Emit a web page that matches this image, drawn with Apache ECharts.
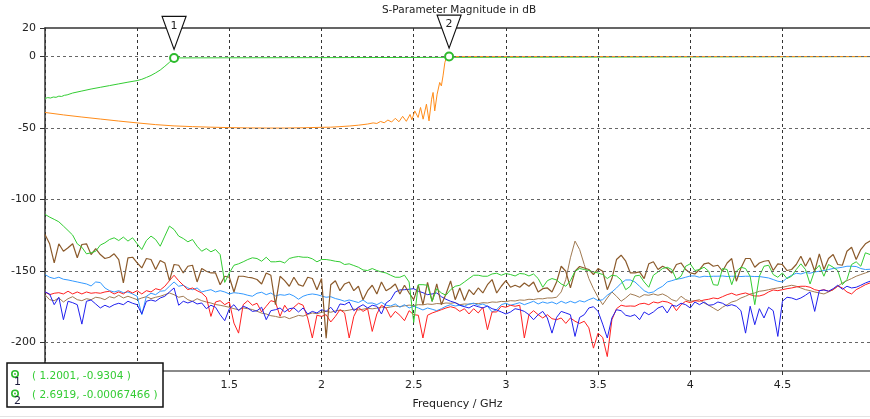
<!DOCTYPE html>
<html>
<head>
<meta charset="utf-8">
<script src="https://cdn.jsdelivr.net/npm/echarts@6/dist/echarts.min.js"></script>
<style>
html, body { margin: 0; padding: 0; background: #fff; }
#main { width: 870px; height: 419px; }
</style>
</head>
<body>
<div id="main"></div>
<script>
// S-parameter traces (dB)
const s11Freq = [0.5, 0.515, 0.53, 0.545, 0.56, 0.575, 0.59, 0.605, 0.62, 0.65, 0.7, 0.75, 0.8, 0.85, 0.9, 0.95, 1.0, 1.025, 1.05, 1.075, 1.1, 1.125, 1.15, 1.175, 1.2001, 1.205, 5.0]
const s11Vals = [-29.3, -28.7, -29.0, -28.3, -28.5, -27.7, -27.9, -27.1, -26.8, -25.5, -24.1, -22.7, -21.5, -20.3, -19.1, -17.9, -16.8, -15.9, -14.6, -13.2, -11.4, -9.4, -6.8, -4.0, -0.93, 0, 0]

const s22Freq = [0.5, 0.6, 0.7, 0.8, 0.9, 1.0, 1.1, 1.2, 1.3, 1.4, 1.5, 1.6, 1.7, 1.8, 1.9, 2.0, 2.05, 2.1, 2.15, 2.2, 2.25, 2.28, 2.3, 2.32, 2.34, 2.36, 2.38, 2.4, 2.42, 2.44, 2.46, 2.48, 2.49, 2.506, 2.524, 2.537, 2.551, 2.569, 2.583, 2.597, 2.605, 2.614, 2.627, 2.641, 2.65, 2.659, 2.669, 2.678, 2.6919, 5.0]
const s22Vals = [-39.1, -40.8, -42.3, -43.7, -45.1, -46.4, -47.6, -48.5, -49.0, -49.4, -49.7, -49.9, -50, -50, -49.8, -49.5, -49.4, -49, -48.6, -48, -47.2, -46.4, -46.8, -45.4, -46.3, -44.4, -45.8, -43.2, -45.6, -41.8, -45.3, -40.5, -44.2, -38, -42.6, -35.6, -43.8, -33.3, -45, -29.8, -25.1, -38, -26.3, -18.1, -20.5, -13.5, -4.1, -0.6, 0, 0]

// coupling traces sampled every 0.025 GHz from 0.5 to 5.0
const noiseFreq = []
for (let i = 0; i <= 180; i++) noiseFreq.push(+(0.5 + 0.025 * i).toFixed(3))

const greenVals = [
  -110.4, -112.3, -113.9, -115.6, -118.6, -121.7, -124.9, -131, -133.4, -138,
  -137.3, -136.2, -131.9, -130.3, -128, -126.8, -128.7, -126.3, -129.1, -126.8,
  -131, -135, -128.7, -125.6, -128, -132.7, -125.6, -118.6, -121, -125.6,
  -127.3, -129.6, -128, -132.7, -136.2, -134.3, -136.6, -135, -138.5, -158,
  -151.4, -146, -145, -143.6, -142, -140.8, -141.3, -143.2, -140.4, -143.6,
  -143.6, -143.2, -144.4, -141.3, -140.4, -139.9, -140.4, -140.4, -141.5, -143.6,
  -142, -142, -142.5, -143.2, -143.6, -145.5, -145, -146.2, -147.4, -149.3,
  -149.7, -148.3, -149.7, -150.7, -151.4, -153, -154.4, -154.4, -153, -157.7,
  -186, -159.6, -159.6, -160, -171.3, -162.4, -165.4, -167, -163.1, -160.7,
  -160, -157.7, -155.3, -153, -153, -153.7, -153.7, -152.1, -151.6, -153,
  -151.8, -152.5, -153.5, -151.8, -152.1, -153.5, -152.1, -155.3, -161.4, -156.8,
  -155.3, -156.3, -159.1, -160.7, -156.8, -150.2, -148.3, -149, -149.7, -150.7,
  -151.4, -152.5, -155.3, -153, -153.5, -156.3, -163.1, -160.7, -153.5, -153,
  -157.7, -161.4, -153, -150.7, -148.3, -147.4, -149, -156, -153.7, -146.7,
  -145, -149.7, -149, -147.4, -150.2, -159.6, -160, -148.3, -149, -159.6,
  -150.2, -147.4, -148.3, -153.7, -173.6, -153.7, -146.7, -146, -152.5, -154.4,
  -151.4, -155.3, -153.7, -149, -145, -149, -159.1, -149.7, -146, -153.7,
  -145.5, -147.4, -149.7, -159.6, -156, -145.5, -143.6, -146.7, -137.3, -138.5,
  -137
]
const brownVals = [
  -124.5, -131, -144.4, -131, -136.2, -133.8, -131, -140.8, -131.5, -131,
  -138.5, -134.3, -138.5, -141.3, -140.4, -138, -142, -158.4, -140.8, -140.4,
  -144.4, -147.9, -141.3, -142, -149, -142.7, -144.4, -156.8, -145.5, -146,
  -151.4, -146.7, -146, -157.7, -148.3, -150.2, -151.4, -151.4, -159.6, -153.7,
  -154.4, -164.7, -153.7, -153.7, -154.4, -154.9, -156, -159.1, -151.4, -153,
  -173.6, -153.7, -156.8, -160.7, -154.4, -159.6, -160.7, -154.4, -155.3, -163.1,
  -155.3, -197, -159.6, -156.8, -163.8, -159.1, -157.7, -163.8, -160.7, -170.1,
  -163.8, -160, -166.1, -157.7, -163.8, -161.9, -159.1, -166.1, -160, -165.4,
  -170.1, -160, -173.6, -158, -171.3, -159, -173.6, -166.1, -157, -170.1,
  -161.9, -170.7, -163.1, -166.6, -161.9, -165.4, -159.6, -156, -165.4, -160.7,
  -156.8, -161.4, -160, -161.4, -158.4, -160.7, -157.7, -164.7, -162.4, -161.9,
  -164.7, -157.7, -146.7, -150.2, -161.9, -150.2, -146.9, -147.9, -149, -152.5,
  -148.3, -150.2, -163.1, -155.3, -142, -139, -143.2, -151.4, -151.4, -150.7,
  -155.3, -145, -143.6, -149, -146.7, -148.3, -151.4, -145.5, -144.4, -149,
  -151.4, -152.1, -149, -145, -144.4, -146.7, -146, -150.2, -144.4, -141.3,
  -157.2, -147.9, -141.3, -141.3, -147.4, -144.4, -143.2, -142.7, -149.7, -145,
  -145.5, -149.7, -149, -145.5, -139.7, -146.7, -140.8, -150.2, -138, -149,
  -141.3, -138.5, -145.5, -146, -136.2, -133.4, -142, -135, -131, -129.1,
  -128.5
]
const tanVals = [
  -166.6, -170.1, -170.8, -168.9, -171.7, -169.4, -168, -170.1, -170.8, -169.4,
  -170.1, -168.4, -168.9, -170.1, -168, -168.9, -167, -168.9, -167.7, -168.9,
  -170.1, -168.9, -168, -169.4, -168.4, -167.7, -166.6, -165.4, -166.6, -168.4,
  -167.7, -170.1, -171.3, -169.4, -170.8, -171.7, -172.4, -173.5, -174, -174.7,
  -175.4, -176.4, -177.1, -175.9, -176.4, -177, -178.2, -179.5, -180.1, -181.3,
  -181.8, -182.6, -182, -183.4, -182.3, -181.1, -181.6, -180.4, -179.4, -179.9,
  -179, -178.2, -178.9, -178, -177.4, -177.9, -177.4, -176.7, -177.3, -176.8,
  -176.1, -176.5, -176, -175.3, -175.7, -175.2, -174.6, -174.9, -174.4, -173.9,
  -174.2, -173.6, -173.7, -173.1, -173.4, -172.8, -173, -172.4, -172.6, -172.2,
  -173.6, -173.1, -173.3, -172.7, -172.9, -172.2, -172.4, -171.7, -171.9, -171.3,
  -171.5, -170.8, -171, -170.3, -170.5, -169.8, -170, -169.4, -169.5, -168.9,
  -168.9, -168.4, -164.7, -156, -140.8, -129.1, -135, -145.5, -155.3, -162.4,
  -168.4, -173.6, -168.9, -164.7, -167.7, -171.2, -168.9, -166.1, -167, -168.4,
  -166.6, -167, -166.1, -167, -166.1, -167.7, -170.1, -171.2, -167.7, -170.1,
  -171.2, -170.8, -170.1, -172.4, -174, -175.9, -177.8, -175.4, -173.6, -171.7,
  -170.8, -168.9, -167.7, -166.1, -165.4, -164.2, -163.8, -163.1, -162.4, -161.9,
  -161.4, -160.7, -160, -160.7, -161.9, -163.1, -163.8, -164.7, -165.4, -166.1,
  -164.7, -163.1, -160.7, -158.4, -156.8, -155.3, -153.7, -152.5, -151.4, -150.2,
  -149.5
]
const skyVals = [
  -152.5, -154.4, -155.3, -154.4, -155.8, -156.3, -157, -157.7, -158.4, -159.1,
  -160.5, -157.7, -158.1, -161.9, -163.8, -164.7, -163.8, -165.2, -164.7, -166.1,
  -167.7, -180.6, -167.7, -165.6, -166.6, -164.2, -163.8, -160.7, -157.7, -160.7,
  -160, -161.9, -163.1, -161.9, -164.7, -163.8, -163.1, -164.7, -163.8, -164.7,
  -166.1, -165.2, -165.6, -166.1, -167, -167.7, -165.6, -164.9, -166.6, -165.4,
  -167.5, -166.6, -167, -166.1, -167.5, -169.8, -167.7, -166.6, -166.1, -166.6,
  -167.5, -168.4, -168, -169.3, -170.1, -171.2, -170.3, -171.2, -172.1, -170.3,
  -172.6, -172.4, -173.6, -171.9, -174, -174.5, -173.1, -175.4, -173.6, -175.9,
  -174.7, -175.9, -177.3, -175.9, -176.8, -177.8, -176.4, -174.7, -173.6, -174.5,
  -174, -174.7, -173.1, -172.6, -174, -173.1, -174.7, -178.7, -177.1, -173.6,
  -172.6, -174, -173.1, -172.2, -173.6, -172.4, -171.2, -173.1, -171.7, -172.6,
  -171.7, -173.1, -171.2, -172.6, -171.2, -172.4, -170.8, -171.7, -170.1, -168.9,
  -170.8, -170.1, -167, -164.7, -161.9, -158.6, -156.3, -156.3, -157.7, -160.7,
  -163.8, -165.4, -164.7, -162.4, -160.7, -157.7, -156.8, -155.8, -155.3, -154.4,
  -153.5, -153.5, -154.4, -153.7, -153.9, -153.7, -153.7, -153.5, -153.9, -153.7,
  -153.7, -153.9, -153.7, -153.7, -153.9, -153.9, -154.4, -154.9, -156, -157.2,
  -157.7, -154.9, -153, -151.6, -152.1, -151.1, -151.6, -150.7, -150.2, -149.7,
  -149, -148.3, -147.9, -147.4, -146.7, -146.7, -146.9, -148.3, -149, -148.8,
  -148.6
]
const redVals = [
  -164.7, -166.6, -165.6, -165.2, -166.1, -164.2, -166.1, -164.7, -166.1, -164.7,
  -165.6, -165.2, -165.6, -164.7, -164.2, -166.1, -164.7, -166.1, -163.8, -165.4,
  -163.8, -166.1, -163.8, -164.7, -162.4, -163.3, -160.7, -156.8, -153, -156.8,
  -160, -163.1, -161.9, -163.8, -165.4, -168.4, -181.8, -171.7, -170.8, -173.6,
  -171.7, -186.5, -193.5, -173.6, -170.8, -174, -172.6, -178.7, -174.7, -170.8,
  -171.7, -181.8, -174, -178.7, -175.4, -172.6, -174, -182.9, -196.9, -181,
  -181.8, -180.6, -185.7, -181.8, -177.1, -179.4, -196.9, -181.8, -175.4, -178.3,
  -176.4, -192.3, -180.1, -174, -175.9, -182.5, -178.3, -181, -184.8, -177.8,
  -180.6, -181, -196.9, -181, -179.4, -178.3, -177.1, -175.9, -175, -175.9,
  -178.3, -176.4, -180.1, -176.4, -179.4, -175.4, -191.1, -178.7, -178.7, -174.7,
  -175.4, -174, -174.7, -174, -196.9, -180.6, -177.8, -180.6, -182.9, -180.6,
  -183.4, -184.1, -182.9, -186.7, -182.9, -185.2, -186.7, -185.2, -189.8, -204,
  -193.5, -196.5, -209.9, -184.1, -176.4, -174, -174.7, -174.5, -174.7, -173.1,
  -172.6, -173.6, -171.7, -172.4, -171.2, -171.7, -173.1, -177.8, -173.6, -171.2,
  -172.2, -170.8, -171.2, -170.3, -169.8, -168.9, -169.4, -168, -166.6, -165.6,
  -167, -166.1, -165.4, -166.6, -167.5, -167.5, -166.6, -164.7, -163.3, -163.8,
  -163.1, -162.4, -161.9, -161.2, -160.7, -160.7, -161.4, -163.1, -163.8, -163.1,
  -164.2, -163.1, -160.5, -161.9, -164.7, -166.1, -163.1, -161.4, -159.6, -158.4,
  -157.5
]
const blueVals = [
  -164.7, -166.1, -173.6, -168.4, -184.1, -171.2, -172.2, -173.6, -187.2, -171.2,
  -170.3, -173.1, -175.9, -174, -175.4, -173.6, -172.6, -173.6, -171.2, -172.6,
  -173.6, -180.1, -171.2, -170.3, -171.2, -168.9, -167.7, -164.7, -161.9, -174,
  -171.2, -172.4, -171.2, -173.1, -172.4, -176.4, -174, -175.4, -180.6, -184.8,
  -176.4, -173.6, -177.8, -174.7, -175.9, -178.3, -177.8, -175.4, -184.1, -177.8,
  -177.1, -175.9, -178.7, -176.4, -175.9, -178.7, -175.9, -180.1, -178.3, -179.4,
  -177.1, -178.3, -175.4, -179.4, -173.1, -173.6, -171.7, -177.8, -175.4, -173.6,
  -175.9, -174, -174.7, -180.1, -172.4, -170.1, -164.7, -163.3, -163.1, -162.8,
  -162.4, -164.2, -165.2, -166.6, -166.1, -165.4, -168, -169.8, -171.2, -172.2,
  -174, -175, -175.9, -174, -175, -175.9, -174.5, -176.4, -177.3, -178.7,
  -180.1, -178.7, -176.4, -177.1, -178.3, -180.6, -184.1, -180.6, -178.3, -182.9,
  -193.5, -182.5, -178.3, -179.4, -180.6, -195.8, -182.5, -180.6, -175.9, -175,
  -178.3, -187.2, -196.9, -182.9, -177.1, -177.8, -181, -181.8, -180.6, -184.1,
  -178.7, -180.6, -178.7, -175.9, -174.7, -179.4, -174, -174.7, -172.6, -173.6,
  -175.9, -171.7, -173.6, -171.7, -174, -173.6, -171.7, -172.6, -174.5, -173.6,
  -174.7, -177.8, -193.5, -174.7, -187.6, -176.4, -182.9, -175.4, -177.8, -195.8,
  -171.2, -168.4, -168.9, -170.1, -168.9, -167, -164.7, -178.3, -163.8, -163.3,
  -164.2, -162.4, -160, -162.8, -160.7, -161.9, -161.4, -160, -158.4, -157.2,
  -156.5
]

const yLabels = [20, 0, -50, -100, -150, -200]
const gridYs = [0, -50, -100, -150, -200]
const markers = [
  { id: '1', f: 1.2001, v: -0.9304, text: '( 1.2001, -0.9304 )' },
  { id: '2', f: 2.6919, v: -0.00067466, text: '( 2.6919, -0.00067466 )' },
]

const FONT = 'DejaVu Sans'
const MARK_GREEN = '#2dbb2d'
const X_MAX = 4.975

const pair = (xs, ys) => xs.map((x, i) => [x, ys[i]])

function noiseLine(name, color, vals, width) {
  return {
    name,
    type: 'line',
    data: pair(noiseFreq, vals),
    showSymbol: false,
    symbol: 'none',
    silent: true,
    lineStyle: { color, width: width || 1 },
  }
}

function markerItems(m) {
  return [
    {
      coord: [m.f, m.v],
      symbol: 'path://M0,0L24,0L12,33Z',
      symbolSize: [24, 33],
      symbolOffset: [0, -25],
      itemStyle: { color: '#fff', borderColor: '#111', borderWidth: 1.2 },
      label: { show: true, formatter: m.id, position: 'inside', offset: [0, -7], color: '#222', fontSize: 11, fontFamily: FONT },
    },
    {
      coord: [m.f, m.v],
      symbol: 'circle',
      symbolSize: 8,
      itemStyle: { color: '#fff', borderColor: MARK_GREEN, borderWidth: 2 },
      label: { show: false },
    },
  ]
}

const chart = echarts.init(document.getElementById('main'))

chart.setOption({
  animation: false,
  backgroundColor: '#fff',
  title: {
    text: 'S-Parameter Magnitude in dB',
    left: 454,
    textAlign: 'center',
    top: 0,
    textStyle: { fontFamily: FONT, fontSize: 10.5, fontWeight: 'normal', color: '#222' },
  },
  grid: { left: 45, right: 0, top: 28, bottom: 48 },
  xAxis: [{
    type: 'value',
    min: 0.5,
    max: X_MAX,
    interval: 0.5,
    position: 'bottom',
    name: 'Frequency / GHz',
    nameLocation: 'middle',
    nameGap: 28,
    nameTextStyle: { fontFamily: FONT, fontSize: 11, color: '#222' },
    axisLine: { show: true, onZero: false, lineStyle: { color: '#8a8a8a', width: 2 } },
    axisTick: { show: true, length: 4, lineStyle: { color: '#333' } },
    axisLabel: {
      margin: 9,
      fontFamily: FONT,
      fontSize: 11,
      color: '#222',
      showMaxLabel: false,
      formatter: v => (v < 0.75 || v > 4.75) ? '' : String(v),
    },
    splitLine: { show: true, showMaxLine: false, lineStyle: { color: '#333', type: [3, 3], width: 1 } },
  }, {
    type: 'value',
    min: 0.5,
    max: X_MAX,
    position: 'top',
    axisLine: { show: true, onZero: false, lineStyle: { color: '#333', width: 1.5 } },
    axisTick: { show: false },
    axisLabel: { show: false },
    splitLine: { show: false },
  }],
  yAxis: {
    type: 'value',
    min: -220,
    max: 20,
    interval: 10,
    axisLine: { show: true, onZero: false, lineStyle: { color: '#333', width: 1.5 } },
    axisTick: { show: true, length: 5, customValues: yLabels, lineStyle: { color: '#333' } },
    axisLabel: {
      customValues: yLabels,
      margin: 9,
      fontFamily: FONT,
      fontSize: 11,
      color: '#222',
      formatter: v => yLabels.indexOf(v) >= 0 ? String(v) : '',
    },
    splitLine: { show: false },
  },
  series: [
    {
      name: 'grid',
      type: 'line',
      data: [],
      silent: true,
      markLine: {
        silent: true,
        symbol: ['none', 'none'],
        label: { show: false },
        lineStyle: { color: '#666', type: [3, 3], width: 1 },
        data: gridYs.map(y => ({ yAxis: y })),
      },
    },
    noiseLine('tan', '#a07a52', tanVals),
    noiseLine('sky', '#3399ff', skyVals),
    noiseLine('red', '#ff2020', redVals),
    noiseLine('blue', '#2020ee', blueVals),
    noiseLine('brown', '#8b5a2b', brownVals, 1.2),
    noiseLine('green', '#33cc33', greenVals),
    {
      name: 'S11',
      type: 'line',
      data: pair(s11Freq, s11Vals),
      showSymbol: false,
      symbol: 'none',
      silent: true,
      lineStyle: { color: '#33cc33', width: 1 },
      markPoint: { silent: true, data: markerItems(markers[0]) },
    },
    {
      name: 'S22',
      type: 'line',
      data: pair(s22Freq, s22Vals),
      showSymbol: false,
      symbol: 'none',
      silent: true,
      lineStyle: { color: '#ff8c1a', width: 1 },
      markPoint: { silent: true, data: markerItems(markers[1]) },
    },
  ],
  graphic: [
    { type: 'rect', z: 100, shape: { x: 0, y: 416, width: 870, height: 1 }, style: { fill: '#e4e4e4' } },
    { type: 'rect', z: 100, shape: { x: 7, y: 363, width: 156, height: 44 }, style: { fill: '#fff', stroke: '#111', lineWidth: 1.5 } },
  ].concat(markers.flatMap((m, i) => {
    const cy = 374 + i * 19.5
    return [
      { type: 'circle', z: 101, shape: { cx: 15, cy, r: 3.2 }, style: { fill: '#fff', stroke: MARK_GREEN, lineWidth: 1.6 } },
      { type: 'circle', z: 101, shape: { cx: 15, cy, r: 0.9 }, style: { fill: MARK_GREEN } },
      { type: 'text', z: 102, x: 17.5, y: cy + 8, style: { text: m.id, fill: '#1c1c3c', font: '11px "DejaVu Sans"', textAlign: 'center', textVerticalAlign: 'middle' } },
      { type: 'text', z: 102, x: 32, y: cy + 2, style: { text: m.text, fill: '#33cc33', font: '10.5px "DejaVu Sans"', textVerticalAlign: 'middle' } },
    ]
  })),
})
</script>
</body>
</html>
